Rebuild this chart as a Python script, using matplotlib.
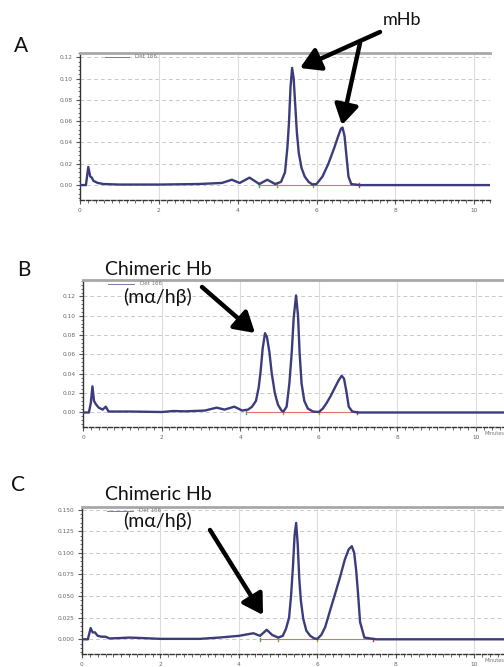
import matplotlib
matplotlib.use("Agg")
import matplotlib.pyplot as plt
from matplotlib.ticker import MultipleLocator, FormatStrFormatter
from matplotlib.lines import Line2D
from matplotlib.patches import FancyArrowPatch

# ---------------- data ----------------
t_A = [0, 0.15, 0.21, 0.26, 0.3, 0.34, 0.45, 0.6, 1.0, 2.0, 3.0, 3.6, 3.85, 4.05, 4.3, 4.55,
       4.75, 4.95, 5.1, 5.2, 5.26, 5.3, 5.34, 5.38, 5.42, 5.46, 5.5, 5.55, 5.62, 5.7, 5.8, 5.9,
       6.0, 6.15, 6.3, 6.45, 6.55, 6.62, 6.66, 6.71, 6.76, 6.81, 6.88, 7.1, 8, 9, 10.4]
y_A = [0, 0.0, 0.017, 0.008, 0.007, 0.004, 0.002, 0.001, 0.0005, 0.0005, 0.001, 0.002, 0.005,
       0.002, 0.007, 0.001, 0.005, 0.001, 0.003, 0.012, 0.035, 0.058, 0.092, 0.110, 0.100, 0.075,
       0.050, 0.030, 0.016, 0.008, 0.003, 0.0005, 0.001, 0.008, 0.020, 0.035, 0.046, 0.053, 0.054,
       0.046, 0.027, 0.008, 0.001, 0.0, 0, 0, 0]

t_B = [0, 0.15, 0.2, 0.24, 0.28, 0.32, 0.4, 0.5, 0.58, 0.65, 0.8, 1.2, 2.0, 2.3, 2.6, 3.1, 3.4,
       3.6, 3.85, 4.05, 4.2, 4.3, 4.4, 4.47, 4.52, 4.57, 4.63, 4.68, 4.74, 4.8, 4.88, 4.96, 5.05,
       5.1, 5.18, 5.25, 5.31, 5.36, 5.42, 5.47, 5.51, 5.56, 5.63, 5.72, 5.85, 6.0, 6.1, 6.2, 6.3,
       6.4, 6.5, 6.58, 6.64, 6.7, 6.76, 6.85, 7.0, 8, 9, 10, 10.8]
y_B = [0, 0.0, 0.01, 0.027, 0.012, 0.009, 0.005, 0.003, 0.006, 0.001, 0.001, 0.001, 0.0005,
       0.0015, 0.0012, 0.002, 0.005, 0.003, 0.006, 0.002, 0.003, 0.006, 0.012, 0.026, 0.043,
       0.066, 0.082, 0.078, 0.063, 0.041, 0.020, 0.008, 0.002, 0.001, 0.006, 0.030, 0.062, 0.098,
       0.121, 0.100, 0.062, 0.030, 0.012, 0.004, 0.001, 0.0005, 0.004, 0.010, 0.017, 0.025, 0.033,
       0.038, 0.035, 0.022, 0.006, 0.001, 0.0, 0, 0, 0, 0]

t_C = [0, 0.15, 0.22, 0.27, 0.33, 0.4, 0.5, 0.6, 0.7, 1.0, 1.2, 1.5, 2.0, 3.0, 3.5, 4.0, 4.37,
       4.54, 4.71, 4.85, 5.0, 5.12, 5.2, 5.28, 5.33, 5.38, 5.42, 5.46, 5.5, 5.54, 5.58, 5.64,
       5.72, 5.82, 5.92, 6.0, 6.1, 6.2, 6.33, 6.45, 6.58, 6.7, 6.8, 6.88, 6.94, 6.99, 7.04, 7.09,
       7.2, 7.5, 8.5, 9.5, 10.8]
y_C = [0, 0.0, 0.013, 0.008, 0.008, 0.004, 0.003, 0.003, 0.001, 0.0015, 0.002, 0.0015, 0.0005,
       0.0005, 0.002, 0.004, 0.007, 0.004, 0.011, 0.005, 0.002, 0.004, 0.012, 0.025, 0.050,
       0.085, 0.120, 0.1346, 0.110, 0.070, 0.045, 0.024, 0.010, 0.004, 0.001, 0.0005, 0.005,
       0.014, 0.034, 0.052, 0.072, 0.092, 0.104, 0.1077, 0.100, 0.080, 0.052, 0.020, 0.002, 0.0,
       0, 0, 0]

# integration baselines (start, end) and boundary marks
base_A = [4.53, 7.07]
base_B = [4.15, 6.96]
base_C = [4.55, 7.43]
marks_A = [4.55, 5.0, 5.9, 7.07]
marks_B = [4.15, 5.1, 6.0, 6.96]
marks_C = [4.55, 5.0, 6.0, 7.43]

yticks_AB = [0.00, 0.02, 0.04, 0.06, 0.08, 0.10, 0.12]
yticks_C = [0.000, 0.025, 0.050, 0.075, 0.100, 0.125, 0.150]
xticks = [0, 2, 4, 6, 8, 10]
legend_label = "Det 166"

# ---------------- figure ----------------
W, H = 504, 667
fig = plt.figure(figsize=(W / 100, H / 100), dpi=100)
fig.patch.set_facecolor("white")

trace_col = "#3c3c7c"
mark_cols = ["#5aa05a", "#9a9a3a", "#9a9a3a", "#c04040"]


def px_axes(l, t, r, b):
    return fig.add_axes([l / W, 1 - b / H, (r - l) / W, (b - t) / H])


def style(ax, xlim, ylim, yticks, fmt, yminor, minutes=False):
    ax.set_xlim(*xlim)
    ax.set_ylim(*ylim)
    ax.set_xticks(xticks)
    ax.set_yticks(yticks)
    ax.yaxis.set_major_formatter(FormatStrFormatter(fmt))
    ax.xaxis.set_minor_locator(MultipleLocator(0.2))
    ax.yaxis.set_minor_locator(MultipleLocator(yminor))
    ax.tick_params(axis="both", which="major", labelsize=4.2, labelcolor="#666666",
                   colors="#555555", length=3, width=0.8, pad=2.5)
    ax.tick_params(axis="both", which="minor", length=1.8, width=0.6, colors="#555555")
    for yv in yticks:
        ax.axhline(yv, color="#c9c9c9", lw=0.7, ls=(0, (4, 3)), zorder=0)
    for xv in xticks[1:]:
        ax.axvline(xv, color="#dddddd", lw=0.8, zorder=0)
    ax.spines["top"].set_color("#a8a8a8")
    ax.spines["top"].set_linewidth(2.0)
    ax.spines["right"].set_visible(False)
    ax.spines["left"].set_color("#333333")
    ax.spines["left"].set_linewidth(1.0)
    ax.spines["bottom"].set_color("#333333")
    ax.spines["bottom"].set_linewidth(1.0)
    ax.spines["bottom"].set_linestyle((0, (3, 1.5)))
    # legend stub
    ax.add_line(Line2D([0.06, 0.12], [0.975, 0.975], transform=ax.transAxes,
                       color="#7a7aa8", lw=0.7, clip_on=False))
    ax.text(0.135, 0.975, legend_label, transform=ax.transAxes, fontsize=4,
            color="#777777", va="center", ha="left")
    if minutes:
        ax.text(1.0, -0.03, "Minutes", fontsize=3.6, color="#777777",
                ha="right", va="top", transform=ax.transAxes)


def draw(ax, t, y, base, marks):
    ax.plot(base, [0, 0], color="#e07070", lw=0.8, zorder=2)
    for m, c in zip(marks, mark_cols):
        ax.plot([m, m], [-0.0015, 0.002], color=c, lw=1.0, zorder=3)
    ax.plot(t, y, color=trace_col, lw=1.7, zorder=4, solid_joinstyle="round")


axA = px_axes(80, 53, 490, 200)
draw(axA, t_A, y_A, base_A, marks_A)
style(axA, (0, 10.4), (-0.014, 0.124), yticks_AB, "%.2f", 0.004)

axB = px_axes(83, 280, 504, 427)
draw(axB, t_B, y_B, base_B, marks_B)
style(axB, (0, 10.71), (-0.015, 0.137), yticks_AB, "%.2f", 0.004, minutes=True)

axC = px_axes(82, 507, 504, 654)
draw(axC, t_C, y_C, base_C, marks_C)
style(axC, (0, 10.76), (-0.017, 0.153), yticks_C, "%.3f", 0.005, minutes=True)

# ---------------- annotations ----------------
font = ["Lato", "DejaVu Sans"]


def ftext(x, y, s, size):
    fig.text(x / W, 1 - y / H, s, fontsize=size, family=font, ha="center", va="center",
             color="#111111")


def farrow(x0, y0, x1, y1):
    fig.add_artist(FancyArrowPatch(
        (x0 / W, 1 - y0 / H), (x1 / W, 1 - y1 / H), transform=fig.transFigure,
        arrowstyle="-|>,head_length=0.75,head_width=0.45", mutation_scale=16,
        lw=3.2, color="black", shrinkA=0, shrinkB=0))


ftext(21, 46, "A", 15)
ftext(402, 20, "mHb", 13)
farrow(380, 32, 300, 68)
farrow(360, 43, 342, 125)

ftext(24, 270, "B", 15)
ftext(158, 269, "Chimeric Hb", 14)
ftext(158, 297, "(mα/hβ)", 14)
farrow(202, 287, 255, 333)

ftext(18, 485, "C", 15)
ftext(158, 495, "Chimeric Hb", 14)
ftext(157, 521, "(mα/hβ)", 14)
farrow(210, 530, 263, 615)

fig.savefig("out.png", dpi=100, facecolor="white")
